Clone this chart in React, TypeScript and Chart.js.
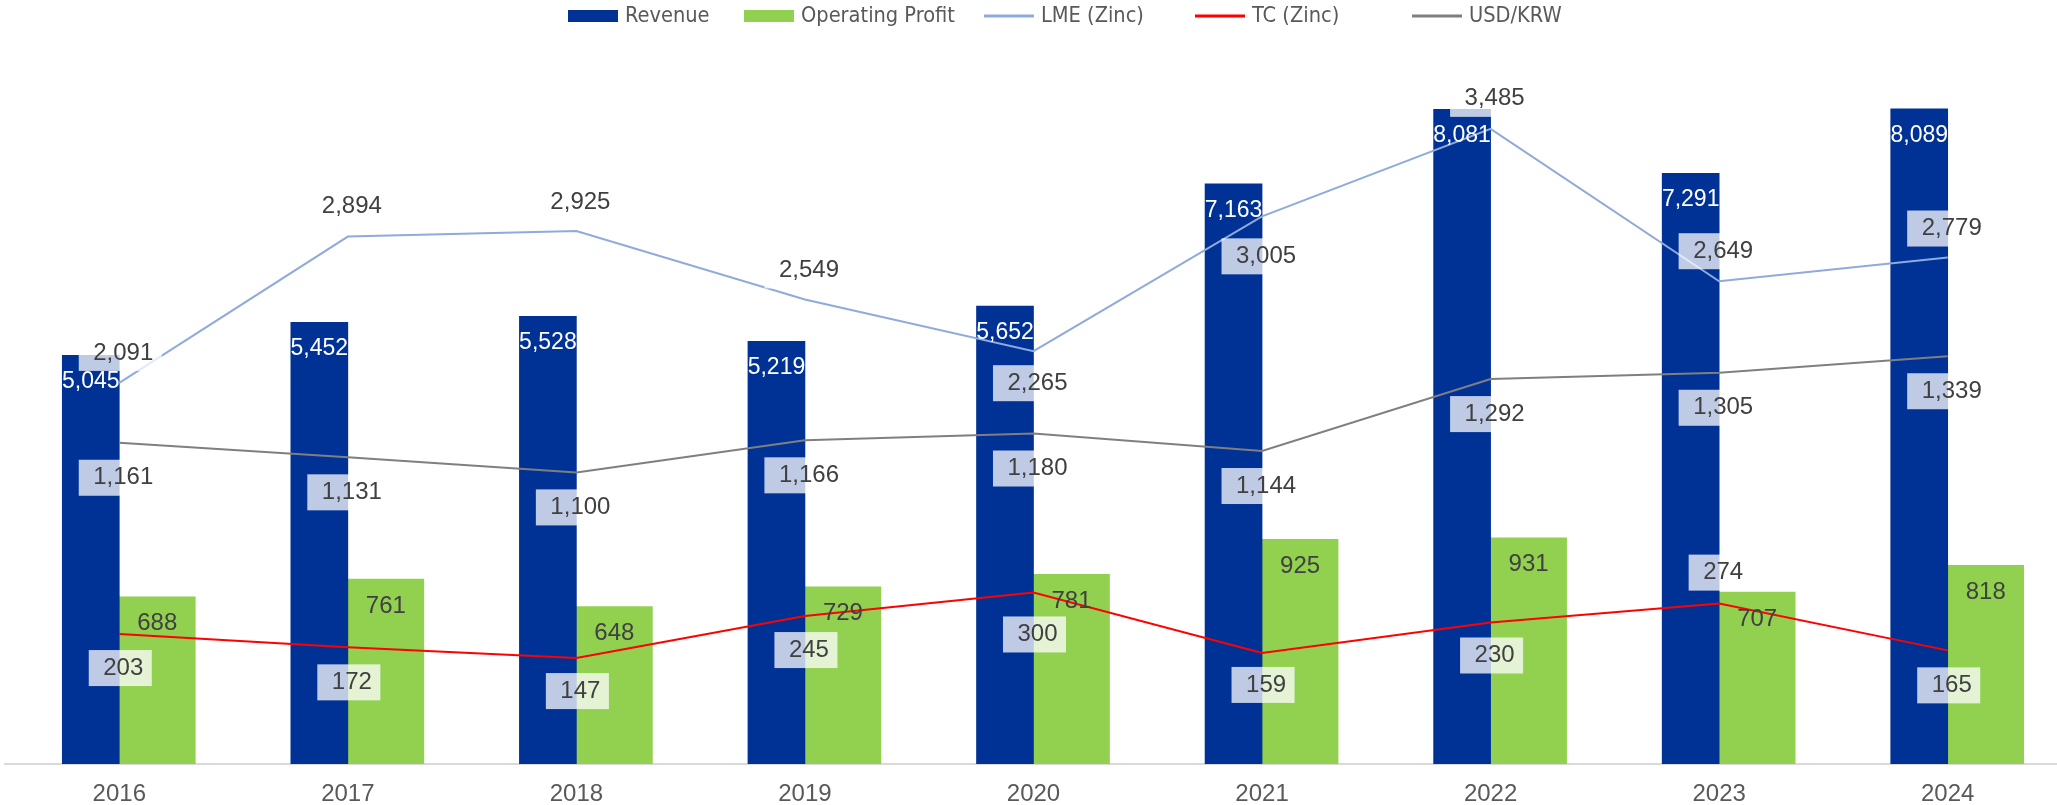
import React, { useEffect, useRef } from 'react';
import { Chart, registerables } from 'chart.js';

Chart.register(...registerables);

// ---------- data ----------
const YEARS = ['2016', '2017', '2018', '2019', '2020', '2021', '2022', '2023', '2024'];
const REVENUE = [5045, 5452, 5528, 5219, 5652, 7163, 8081, 7291, 8089];
const OPERATING_PROFIT = [688, 761, 648, 729, 781, 925, 931, 707, 818];
const LME_ZINC = [2091, 2894, 2925, 2549, 2265, 3005, 3485, 2649, 2779];
const TC_ZINC = [203, 172, 147, 245, 300, 159, 230, 274, 165];
const USD_KRW = [1161, 1131, 1100, 1166, 1180, 1144, 1292, 1305, 1339];

// label placement (vertical offset of each value label from its point, px)
const LME_LABEL_DY = [-30, -30, -29, -29, 32, 40, -30, -30, -29];
const TC_LABEL_DY = [34, 35, 33, 34, 42, 32, 33, -31, 35];
const KRW_LABEL_DY = [35, 35, 35, 35, 35, 35, 35, 35, 35];

// legend entry start positions (px)
const LEGEND_X = [568, 744, 984, 1195, 1412];

// ---------- layout / style ----------
const W = 2063;
const H = 805;
const FONT = "'Liberation Sans', Arial, Helvetica, sans-serif";
const LEGEND_FONT = "'DejaVu Sans Condensed', 'Liberation Sans Narrow', 'DejaVu Sans', sans-serif";
const TEXT_DARK = '#404040';
const TEXT_GREY = '#595959';

const fmt = (v: number) => v.toLocaleString('en-US');

const valueLabels = {
  id: 'valueLabels',
  afterDatasetsDraw(chart: any) {
    const ctx = chart.ctx;
    ctx.save();
    ctx.textAlign = 'center';
    ctx.textBaseline = 'middle';
    // bars first
    chart.data.datasets.forEach((ds: any, di: number) => {
      if (ds.type !== 'bar') return;
      const meta = chart.getDatasetMeta(di);
      ctx.font = `${ds.labelSize}px ${FONT}`;
      ctx.fillStyle = ds.labelColor;
      meta.data.forEach((el: any, i: number) => {
        ctx.fillText(fmt(ds.data[i]), el.x, el.y + ds.labelDy);
      });
    });
    // line labels with boxes
    chart.data.datasets.forEach((ds: any, di: number) => {
      if (ds.type !== 'line') return;
      const meta = chart.getDatasetMeta(di);
      ctx.font = `24px ${FONT}`;
      meta.data.forEach((el: any, i: number) => {
        const t = fmt(ds.data[i]);
        const tw = ctx.measureText(t).width;
        const cx = el.x + 4;
        const cy = el.y + ds.labelDy[i];
        ctx.fillStyle = 'rgba(255,255,255,0.75)';
        ctx.fillRect(cx - tw / 2 - 14.5, cy - 18, tw + 23, 36);
        ctx.fillStyle = TEXT_DARK;
        ctx.fillText(t, cx, cy);
      });
    });
    ctx.restore();
  },
};

const customLegend = {
  id: 'customLegend',
  afterDraw(chart: any) {
    const ctx = chart.ctx;
    ctx.save();
    ctx.font = `20px ${LEGEND_FONT}`;
    const ref = ctx.measureText('Operating Profit').width;
    const size = (20 * 154) / ref;
    ctx.font = `${size}px ${LEGEND_FONT}`;
    const sw = 50;
    const gapText = 7;
    const cy = 16;
    ctx.textAlign = 'left';
    ctx.textBaseline = 'middle';
    chart.data.datasets.forEach((ds: any, i: number) => {
      const x = LEGEND_X[i];
      if (ds.type === 'bar') {
        ctx.fillStyle = ds.backgroundColor;
        ctx.fillRect(x, cy - 6, sw, 12);
      } else {
        ctx.strokeStyle = ds.borderColor;
        ctx.lineWidth = 3;
        ctx.beginPath();
        ctx.moveTo(x, cy);
        ctx.lineTo(x + sw, cy);
        ctx.stroke();
      }
      ctx.fillStyle = TEXT_GREY;
      ctx.fillText(ds.label, x + sw + gapText, cy);
    });
    ctx.restore();
  },
};

export default function App() {
  const ref = useRef<HTMLCanvasElement>(null);

  useEffect(() => {
    if (!ref.current) return;
    const chart = new Chart(ref.current, {
      type: 'bar',
      data: {
        labels: YEARS,
        datasets: [
          {
            type: 'bar',
            label: 'Revenue',
            data: REVENUE,
            yAxisID: 'yRev',
            backgroundColor: '#003296',
            barThickness: 57,
            order: 1,
            labelColor: '#FFFFFF',
            labelSize: 23,
            labelDy: 26.5,
          } as any,
          {
            type: 'bar',
            label: 'Operating Profit',
            data: OPERATING_PROFIT,
            yAxisID: 'yOp',
            backgroundColor: '#92D050',
            barThickness: 76,
            order: 1,
            labelColor: TEXT_DARK,
            labelSize: 24,
            labelDy: 27,
          } as any,
          {
            type: 'line',
            label: 'LME (Zinc)',
            data: LME_ZINC,
            yAxisID: 'yLme',
            borderColor: '#8FAADC',
            backgroundColor: '#8FAADC',
            borderWidth: 2,
            pointRadius: 0,
            tension: 0,
            order: 0,
            labelDy: LME_LABEL_DY,
          } as any,
          {
            type: 'line',
            label: 'TC (Zinc)',
            data: TC_ZINC,
            yAxisID: 'yTc',
            borderColor: '#FF0000',
            backgroundColor: '#FF0000',
            borderWidth: 2,
            pointRadius: 0,
            tension: 0,
            order: 0,
            labelDy: TC_LABEL_DY,
          } as any,
          {
            type: 'line',
            label: 'USD/KRW',
            data: USD_KRW,
            yAxisID: 'yKrw',
            borderColor: '#7F7F7F',
            backgroundColor: '#7F7F7F',
            borderWidth: 2,
            pointRadius: 0,
            tension: 0,
            order: 0,
            labelDy: KRW_LABEL_DY,
          } as any,
        ],
      },
      options: {
        responsive: false,
        animation: false,
        devicePixelRatio: 1,
        layout: { padding: { top: 35, left: 5, right: 1, bottom: 0 } },
        plugins: {
          legend: { display: false },
          tooltip: { enabled: false },
        },
        scales: {
          x: {
            type: 'category',
            offset: true,
            grid: { display: false, drawTicks: false },
            border: { display: true, color: '#D9D9D9', width: 2 },
            ticks: {
              color: TEXT_GREY,
              font: { family: FONT, size: 24 },
              padding: 16,
              maxRotation: 0,
              autoSkip: false,
            },
            afterFit(scale: any) {
              scale.height = 41;
            },
          },
          yRev: { type: 'linear', display: false, min: 0, max: 9000 },
          yOp: { type: 'linear', display: false, min: 0, max: 3000 },
          yLme: { type: 'linear', display: false, min: 0, max: 4000 },
          yKrw: { type: 'linear', display: false, min: 500, max: 2000 },
          yTc: { type: 'linear', display: false, min: -100, max: 1600 },
        },
      } as any,
      plugins: [valueLabels, customLegend],
    });
    return () => chart.destroy();
  }, []);

  return (
    <div
      style={{
        position: 'fixed',
        left: 0,
        top: 0,
        width: 2057,
        height: 805,
        overflow: 'hidden',
        background: '#FFFFFF',
      }}
    >
      <canvas ref={ref} width={W} height={H} style={{ display: 'block', width: W, height: H }} />
    </div>
  );
}
